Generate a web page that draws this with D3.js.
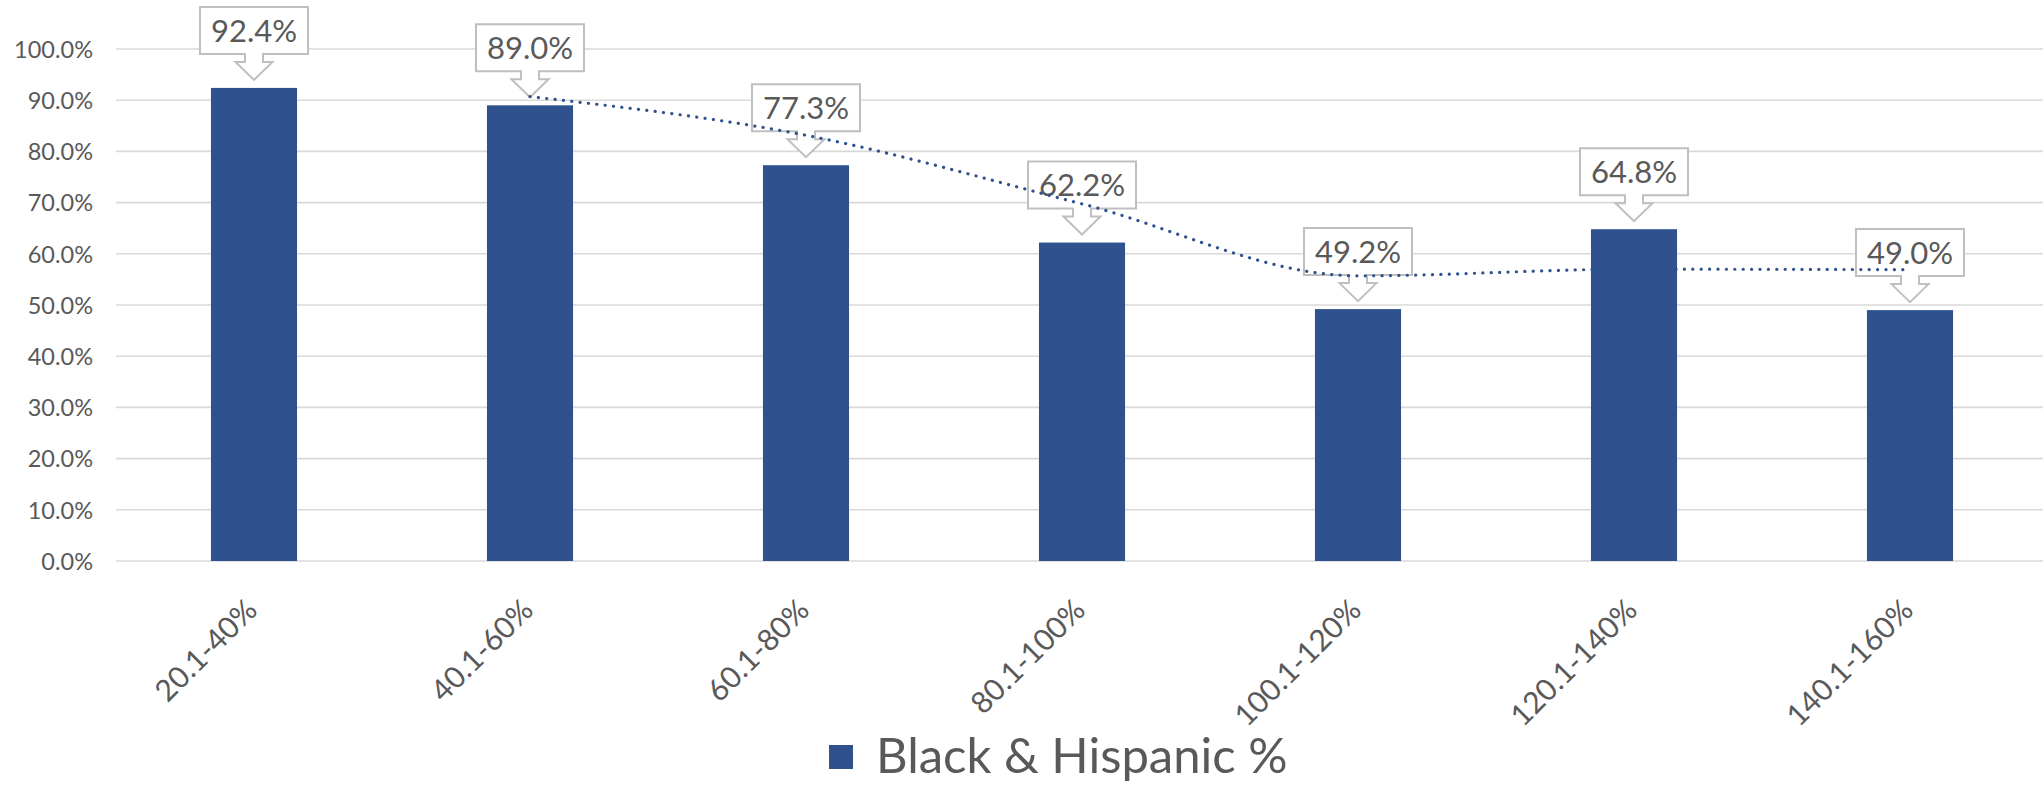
<!DOCTYPE html>
<html>
<head>
<meta charset="utf-8">
<script src="https://cdn.jsdelivr.net/npm/d3@7/dist/d3.min.js"></script>
<style>
  html, body { margin: 0; padding: 0; background: #ffffff; }
  svg { display: block; }
  text { font-family: Lato, "Noto Sans", sans-serif; fill: #595959; }
</style>
</head>
<body>
<svg id="chart" width="2043" height="785"></svg>
<script>
// ---- data ----
const categories = ["20.1-40%", "40.1-60%", "60.1-80%", "80.1-100%", "100.1-120%", "120.1-140%", "140.1-160%"];
const values = [92.4, 89.0, 77.3, 62.2, 49.2, 64.8, 49.0];
// 2-period moving average trendline (starts at second category)
const trendValues = [90.7, 83.15, 69.75, 55.7, 57.0, 56.9];
const yTicks = [0, 10, 20, 30, 40, 50, 60, 70, 80, 90, 100];
const seriesName = "Black & Hispanic %";

// ---- layout ----
const W = 2043, H = 785;
const plotLeft = 116, plotRight = 2048, plotTop = 49, plotBottom = 561;
const barColor = "#2F528F";
const gridColor = "#D9D9D9";
const textColor = "#595959";

const svg = d3.select("#chart");

const x = d3.scaleBand()
  .domain(categories)
  .range([plotLeft, plotRight])
  .paddingInner(0.688)
  .paddingOuter(0.344);

const y = d3.scaleLinear().domain([0, 100]).range([plotBottom, plotTop]);

// gridlines
svg.append("g")
  .selectAll("line")
  .data(yTicks)
  .join("line")
  .attr("x1", plotLeft).attr("x2", W)
  .attr("y1", d => y(d)).attr("y2", d => y(d))
  .attr("stroke", gridColor)
  .attr("stroke-width", 1.6);

// y axis labels
const yAxis = d3.axisLeft(y).tickValues(yTicks).tickFormat(d => d3.format(".1f")(d) + "%").tickSize(0).tickPadding(0);
const yg = svg.append("g").attr("transform", `translate(${93},0)`).call(yAxis);
yg.select(".domain").remove();
yg.selectAll("text")
  .style("font-family", "Lato, 'Noto Sans', sans-serif")
  .style("font-size", "23.5px")
  .attr("fill", textColor)
  .attr("dy", "0.35em");

// bars
svg.append("g")
  .selectAll("rect")
  .data(values)
  .join("rect")
  .attr("x", (d, i) => x(categories[i]))
  .attr("width", x.bandwidth())
  .attr("y", d => y(d))
  .attr("height", d => y(0) - y(d))
  .attr("fill", barColor);

// x axis labels (rotated)
const xAxis = d3.axisBottom(x).tickSize(0).tickPadding(0);
const xg = svg.append("g").attr("transform", `translate(0,${plotBottom})`).call(xAxis);
xg.select(".domain").remove();
xg.selectAll("text")
  .style("font-family", "Lato, 'Noto Sans', sans-serif")
  .style("font-size", "30px")
  .attr("fill", textColor)
  .attr("text-anchor", "end")
  .attr("dy", null)
  .attr("y", 0)
  .attr("transform", "translate(5,51) rotate(-45)");

// callout data labels
const boxW = 108, boxH = 47, stemHW = 9, headHW = 18.5, stemH = 8, headH = 18, gap = 8;
function calloutPath(cx, tipY) {
  const headTop = tipY - headH;
  const stemTop = headTop - stemH;
  const boxBottom = stemTop;
  const boxTop = boxBottom - boxH;
  const l = cx - boxW / 2, r = cx + boxW / 2;
  return `M${l},${boxTop} L${r},${boxTop} L${r},${boxBottom} L${cx + stemHW},${boxBottom} L${cx + stemHW},${headTop} L${cx + headHW},${headTop} L${cx},${tipY} L${cx - headHW},${headTop} L${cx - stemHW},${headTop} L${cx - stemHW},${boxBottom} L${l},${boxBottom} Z`;
}
const labels = svg.append("g");
values.forEach((v, i) => {
  const cx = x(categories[i]) + x.bandwidth() / 2;
  const tipY = y(v) - gap;
  labels.append("path")
    .attr("d", calloutPath(cx, tipY))
    .attr("fill", "#ffffff")
    .attr("stroke", "#BFBFBF")
    .attr("stroke-width", 2)
    .attr("stroke-linejoin", "miter");
  const boxCy = tipY - headH - stemH - boxH / 2;
  labels.append("text")
    .attr("x", cx)
    .attr("y", boxCy)
    .attr("dy", "0.36em")
    .attr("text-anchor", "middle")
    .style("font-size", "31px")
    .attr("fill", textColor)
    .text(d3.format(".1f")(v) + "%");
});

// trendline (moving average), dotted
const trendPts = trendValues.map((v, i) => [x(categories[i + 1]) + x.bandwidth() / 2, y(v)]);
svg.append("path")
  .attr("d", d3.line().curve(d3.curveMonotoneX)(trendPts))
  .attr("fill", "none")
  .attr("stroke", barColor)
  .attr("stroke-width", 3.2)
  .attr("stroke-linecap", "round")
  .attr("stroke-dasharray", "0.1 8.3");

// legend
const legend = svg.append("g");
legend.append("rect")
  .attr("x", 829).attr("y", 745)
  .attr("width", 24).attr("height", 24)
  .attr("fill", barColor);
legend.append("text")
  .attr("x", 876).attr("y", 773)
  .style("font-size", "49px")
  .attr("fill", textColor)
  .text(seriesName);
</script>
</body>
</html>
